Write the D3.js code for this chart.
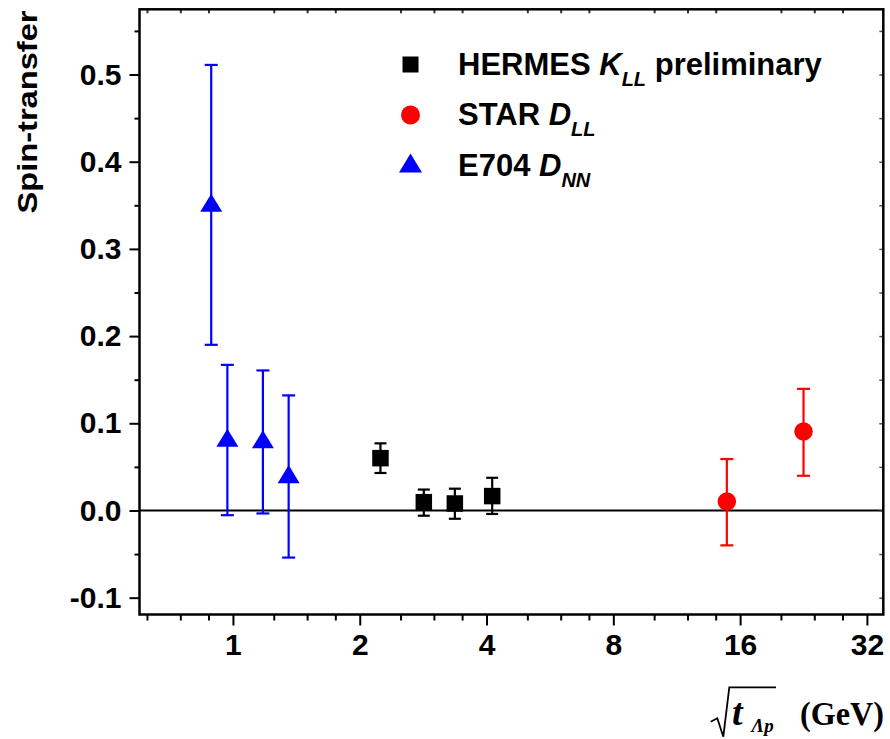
<!DOCTYPE html>
<html><head><meta charset="utf-8">
<script src="https://cdn.jsdelivr.net/npm/d3@7"></script>
<style>body{margin:0;background:#fff}svg{display:block}text{font-family:"Liberation Sans",Arial,sans-serif;font-weight:bold}</style>
</head><body><svg id="c" width="890" height="739"></svg>
<script>
// ---- data ----
const e704X   = [0.888, 0.970, 1.178, 1.356];
const e704Y   = [0.353, 0.0835, 0.0816, 0.0417];
const e704Lo  = [0.190, -0.0054, -0.0034, -0.054];
const e704Hi  = [0.511, 0.167, 0.1606, 0.132];

const hermesX  = [2.24, 2.839, 3.364, 4.126];
const hermesY  = [0.060, 0.0095, 0.008, 0.0165];
const hermesLo = [0.043, -0.006, -0.0095, -0.004];
const hermesHi = [0.077, 0.024, 0.025, 0.0375];

const starX  = [14.88, 22.63];
const starY  = [0.0103, 0.0906];
const starLo = [-0.040, 0.0398];
const starHi = [0.059, 0.1395];

const xTicks = [1, 2, 4, 8, 16, 32];
const xTickLabels = ["1", "2", "4", "8", "16", "32"];
const xMinorTicks = [0.625, 0.75, 0.875, 1.25, 1.5, 1.75, 2.5, 3, 3.5, 5, 6, 7, 10, 12, 14, 20, 24, 28];
const yTicks = [-0.1, 0, 0.1, 0.2, 0.3, 0.4, 0.5];
const yTickLabels = ["-0.1", "0.0", "0.1", "0.2", "0.3", "0.4", "0.5"];
const yMinorTicks = [-0.05, 0.05, 0.15, 0.25, 0.35, 0.45, 0.55];

// ---- layout ----
const L = 139.5, R = 883.3, T = 9.3, B = 614.5;
const svg = d3.select("#c");
const x = d3.scaleLog().base(2).domain([0.6, 35]).range([L, R]);
const y = d3.scaleLinear().domain([-0.1193, 0.5748]).range([B, T]);

// zero line
svg.append("line").attr("x1", L).attr("x2", R).attr("y1", y(0)).attr("y2", y(0))
  .attr("stroke", "#000").attr("stroke-width", 2.2);

// axes
const fs = 30;
const gB = svg.append("g").attr("transform", `translate(0,${B})`)
  .call(d3.axisBottom(x).tickValues(xTicks).tickFormat((d, i) => xTickLabels[i]).tickSize(11).tickPadding(8));
const gBm = svg.append("g").attr("transform", `translate(0,${B})`)
  .call(d3.axisBottom(x).tickValues(xMinorTicks).tickFormat("").tickSize(6));
const gL = svg.append("g").attr("transform", `translate(${L},0)`)
  .call(d3.axisLeft(y).tickValues(yTicks).tickFormat((d, i) => yTickLabels[i]).tickSize(10).tickPadding(8));
const gLm = svg.append("g").attr("transform", `translate(${L},0)`)
  .call(d3.axisLeft(y).tickValues(yMinorTicks).tickFormat("").tickSize(5));
const gT = svg.append("g").attr("transform", `translate(0,${T})`)
  .call(d3.axisBottom(x).tickValues(xMinorTicks).tickFormat("").tickSize(4));
const gR = svg.append("g").attr("transform", `translate(${R},0)`)
  .call(d3.axisLeft(y).tickValues(yTicks.concat(yMinorTicks)).tickFormat("").tickSize(4));
[gB, gBm, gL, gLm, gT, gR].forEach(g => {
  g.select(".domain").remove();
  g.selectAll(".tick line").attr("stroke", "#000").attr("stroke-width", 2);
  g.selectAll(".tick text").attr("font-size", fs).attr("font-family", "Liberation Sans, Arial, sans-serif")
    .attr("font-weight", "bold").attr("fill", "#000");
});
gT.selectAll(".tick line").attr("stroke", "#333");
gR.selectAll(".tick line").attr("stroke", "#555").attr("stroke-width", 1.5);
// frame
svg.append("rect").attr("x", L).attr("y", T).attr("width", R - L).attr("height", B - T)
  .attr("fill", "none").attr("stroke", "#000").attr("stroke-width", 2.5);

// error bars + markers
function series(xs, ys, lo, hi, color, cap, shape, size) {
  const g = svg.append("g");
  xs.forEach((xv, i) => {
    const cx = x(xv);
    g.append("line").attr("x1", cx).attr("x2", cx).attr("y1", y(lo[i])).attr("y2", y(hi[i]))
      .attr("stroke", color).attr("stroke-width", 2.2);
    [lo[i], hi[i]].forEach(v => g.append("line").attr("x1", cx - cap / 2).attr("x2", cx + cap / 2)
      .attr("y1", y(v)).attr("y2", y(v)).attr("stroke", color).attr("stroke-width", 2.2));
  });
  xs.forEach((xv, i) => drawMarker(g, shape, x(xv), y(ys[i]), size, color));
}
function drawMarker(g, shape, cx, cy, s, color) {
  if (shape === "square") g.append("rect").attr("x", cx - s / 2).attr("y", cy - s / 2).attr("width", s).attr("height", s).attr("fill", color);
  else if (shape === "circle") g.append("circle").attr("cx", cx).attr("cy", cy).attr("r", s / 2).attr("fill", color);
  else g.append("path").attr("d", `M${cx},${cy - s * 0.41}L${cx + s / 2},${cy + s * 0.41}L${cx - s / 2},${cy + s * 0.41}Z`).attr("fill", color);
}
series(e704X, e704Y, e704Lo, e704Hi, "#0000ff", 13, "triangle", 22);
series(hermesX, hermesY, hermesLo, hermesHi, "#000000", 12, "square", 16.5);
series(starX, starY, starLo, starHi, "#ff0000", 13, "circle", 18.5);

// legend
const leg = [
  {shape: "square", color: "#000", size: 16, cy: 64.5, base: 75, a: "HERMES ", it: "K", sub: "LL", tail: " preliminary"},
  {shape: "circle", color: "#ff0000", size: 19, cy: 115, base: 125, a: "STAR ", it: "D", sub: "LL", tail: ""},
  {shape: "triangle", color: "#0000ff", size: 23, cy: 163, base: 175.5, a: "E704 ", it: "D", sub: "NN", tail: ""}
];
leg.forEach(d => {
  drawMarker(svg, d.shape, 410.5, d.cy, d.size, d.color);
  const t = svg.append("text").attr("x", 458).attr("y", d.base).attr("font-size", 31).attr("fill", "#000");
  t.append("tspan").text(d.a);
  t.append("tspan").attr("font-style", "italic").text(d.it);
  t.append("tspan").attr("font-style", "italic").attr("font-size", 20).attr("dy", 11).text(d.sub);
  if (d.tail) t.append("tspan").attr("dy", -11).text(d.tail);
});

// y axis title
svg.append("text").attr("transform", "translate(37,112) rotate(-90)").attr("text-anchor", "middle")
  .attr("font-size", 27).attr("fill", "#000").attr("textLength", 203).attr("lengthAdjust", "spacingAndGlyphs")
  .text("Spin-transfer");

// x axis title
svg.append("path").attr("d", "M710.7,721.7L717.3,718.3L723.3,736.7L729.3,687.3L776,687.3")
  .attr("fill", "none").attr("stroke", "#000").attr("stroke-width", 1.8);
const xt = svg.append("text").attr("x", 732).attr("y", 725).attr("fill", "#000")
  .style("font-family", "Liberation Serif, Times New Roman, serif");
xt.append("tspan").attr("font-size", 38).attr("font-style", "italic").text("t");
xt.append("tspan").attr("font-size", 19).attr("font-style", "italic").attr("dy", 7).attr("dx", 9).text("Λp");
svg.append("text").attr("x", 800).attr("y", 725).attr("fill", "#000")
  .style("font-family", "Liberation Serif, Times New Roman, serif")
  .attr("font-size", 34).attr("textLength", 84).attr("lengthAdjust", "spacingAndGlyphs").text("(GeV)");
</script></body></html>
